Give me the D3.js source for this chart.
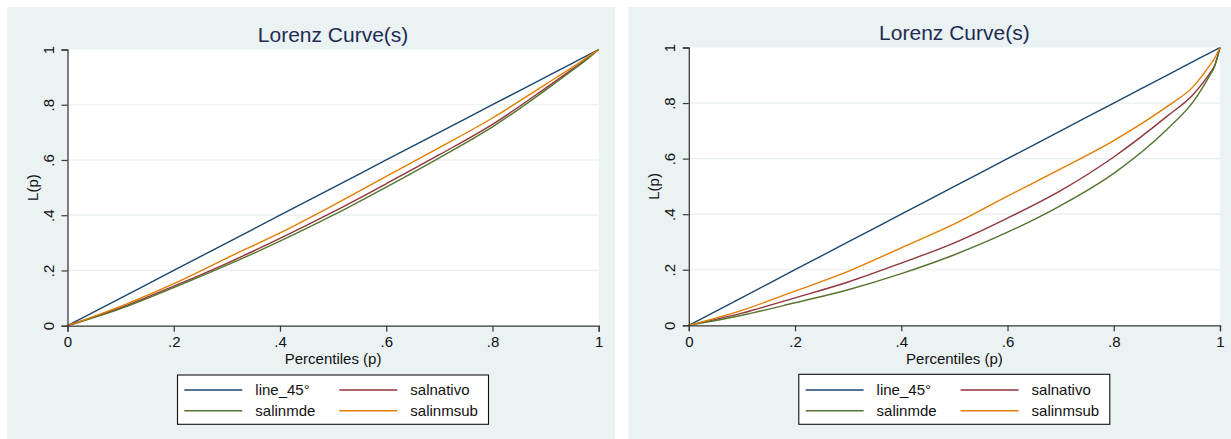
<!DOCTYPE html>
<html><head><meta charset="utf-8">
<script src="https://cdn.jsdelivr.net/npm/d3@7"></script>
<style>
html,body{margin:0;padding:0;background:#fff;}
svg{display:block;font-family:"Liberation Sans",Arial,sans-serif;}
</style></head>
<body>
<svg id="chart" width="1231" height="439"></svg>
<script>
// ---- data ----
const percentiles = [0, 0.1, 0.2, 0.3, 0.4, 0.5, 0.6, 0.7, 0.8, 0.9, 0.95, 0.98, 0.99, 1];
const line45 = [0, 0.1, 0.2, 0.3, 0.4, 0.5, 0.6, 0.7, 0.8, 0.9, 0.95, 0.98, 0.99, 1];
// left panel
const salnativoLeft = [0, 0.065, 0.143, 0.226, 0.316, 0.412, 0.514, 0.619, 0.729, 0.860, 0.928, 0.970, 0.985, 1];
const salinmdeLeft  = [0, 0.062, 0.138, 0.219, 0.306, 0.400, 0.502, 0.608, 0.720, 0.853, 0.924, 0.968, 0.984, 1];
const salinmsubLeft = [0, 0.070, 0.152, 0.245, 0.336, 0.436, 0.541, 0.645, 0.752, 0.874, 0.935, 0.974, 0.987, 1];
// right panel
const salnativoRight = [0, 0.044, 0.099, 0.156, 0.224, 0.297, 0.386, 0.485, 0.606, 0.752, 0.832, 0.905, 0.936, 1];
const salinmdeRight  = [0, 0.036, 0.081, 0.128, 0.186, 0.254, 0.335, 0.431, 0.547, 0.705, 0.806, 0.897, 0.932, 1];
const salinmsubRight = [0, 0.054, 0.123, 0.194, 0.279, 0.365, 0.465, 0.563, 0.665, 0.787, 0.860, 0.934, 0.962, 1];

const tickValues = [0, 0.2, 0.4, 0.6, 0.8, 1];
const tickLabels = ["0", ".2", ".4", ".6", ".8", "1"];
const seriesNames = ["line_45°", "salnativo", "salinmde", "salinmsub"];
const seriesColors = ["#1a476f", "#90353b", "#55752f", "#e37e00"];
const titleText = "Lorenz Curve(s)";
const xTitle = "Percentiles (p)";
const yTitle = "L(p)";

const svg = d3.select("#chart");

function panel(cfg, seriesValues) {
  const g = svg.append("g").attr("transform", `translate(${cfg.dx},0)`);
  // graph region background
  g.append("rect").attr("x", 7).attr("y", 7).attr("width", 608).attr("height", 432).attr("fill", "#eaf2f3");
  const x = d3.scaleLinear().domain([0, 1]).range([67.5, 598.7]);
  const y = d3.scaleLinear().domain([0, 1]).range([cfg.bottom, cfg.top]);
  // plot region
  g.append("rect").attr("x", x(0)).attr("y", y(1)).attr("width", x(1) - x(0)).attr("height", y(0) - y(1)).attr("fill", "#ffffff");
  // gridlines
  g.selectAll("line.grid").data(tickValues.slice(1, -1)).join("line")
    .attr("x1", x(0)).attr("x2", x(1)).attr("y1", d => y(d)).attr("y2", d => y(d))
    .attr("stroke", "#e6eef0").attr("stroke-width", 1.2);
  // lines
  const lineGen = d3.line().x((d, i) => x(percentiles[i])).y(d => y(d)).curve(d3.curveMonotoneX);
  seriesValues.forEach((vals, k) => {
    g.append("path").attr("d", lineGen(vals)).attr("fill", "none")
      .attr("stroke", seriesColors[k]).attr("stroke-width", 1.4);
  });
  // axes
  const xAxis = d3.axisBottom(x).tickValues(tickValues).tickFormat((d, i) => tickLabels[i]).tickSize(6).tickPadding(4);
  const gx = g.append("g").attr("transform", `translate(0,${y(0)})`).call(xAxis);
  gx.select(".domain").attr("stroke", "#3a3a3a").attr("stroke-width", 1.3);
  gx.selectAll(".tick line").attr("stroke", "#3a3a3a").attr("stroke-width", 1.2);
  gx.selectAll(".tick text").attr("font-size", 15).attr("fill", "#111").attr("font-family", "Liberation Sans, Arial, sans-serif").attr("dy", "0.78em");
  const yAxis = d3.axisLeft(y).tickValues(tickValues).tickFormat((d, i) => tickLabels[i]).tickSize(6).tickPadding(4);
  const gy = g.append("g").attr("transform", `translate(${x(0)},0)`).call(yAxis);
  gy.select(".domain").attr("stroke", "#3a3a3a").attr("stroke-width", 1.3);
  gy.selectAll(".tick line").attr("stroke", "#3a3a3a").attr("stroke-width", 1.2);
  gy.selectAll(".tick text").attr("font-size", 15).attr("fill", "#111").attr("font-family", "Liberation Sans, Arial, sans-serif")
    .attr("x", null).attr("dy", null).attr("text-anchor", "middle")
    .attr("transform", "translate(-14,0) rotate(-90)");
  // titles
  g.append("text").attr("x", (x(0) + x(1)) / 2).attr("y", cfg.titleY).attr("text-anchor", "middle")
    .attr("font-size", 21).attr("fill", "#1e2c52").text(titleText);
  g.append("text").attr("x", (x(0) + x(1)) / 2).attr("y", 364).attr("text-anchor", "middle")
    .attr("font-size", 15).attr("fill", "#111").text(xTitle);
  g.append("text").attr("transform", `translate(38,${(y(0) + y(1)) / 2}) rotate(-90)`).attr("text-anchor", "middle")
    .attr("font-size", 15).attr("fill", "#111").text(yTitle);
  // legend
  const lg = g.append("g");
  lg.append("rect").attr("x", 177.5).attr("y", cfg.legTop).attr("width", 311).attr("height", 424.3 - cfg.legTop)
    .attr("fill", "#fff").attr("stroke", "#111").attr("stroke-width", 1.1);
  const pos = [[184.3, 390], [339.3, 390], [184.3, 410.7], [339.3, 410.7]];
  seriesNames.forEach((name, k) => {
    const [lx, ly] = pos[k];
    lg.append("line").attr("x1", lx).attr("x2", lx + 58).attr("y1", ly).attr("y2", ly)
      .attr("stroke", seriesColors[k]).attr("stroke-width", 1.4);
    lg.append("text").attr("x", lx + 71).attr("y", ly + 5.3).attr("font-size", 15).attr("fill", "#111").text(name);
  });
}

panel({dx: 0, top: 49.5, bottom: 325.7, titleY: 42.3, legTop: 375}, [line45, salnativoLeft, salinmdeLeft, salinmsubLeft]);
panel({dx: 621.3, top: 47.5, bottom: 325.3, titleY: 39.5, legTop: 374.3}, [line45, salnativoRight, salinmdeRight, salinmsubRight]);
</script>
</body></html>
